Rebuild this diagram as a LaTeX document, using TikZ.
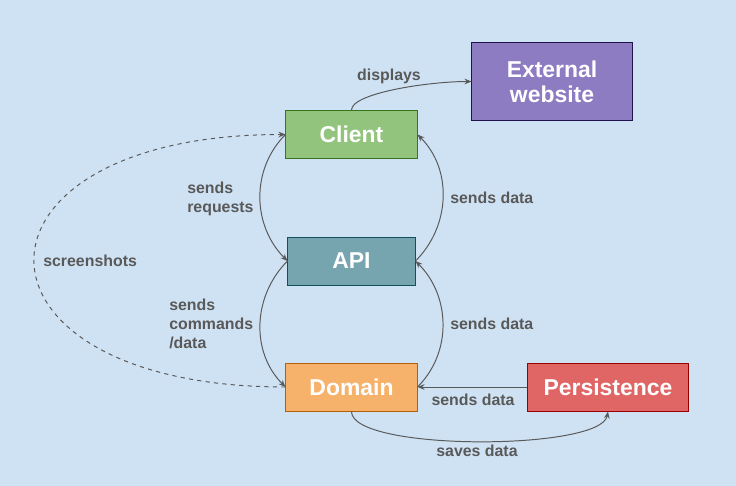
\documentclass[tikz,border=0pt]{standalone}
\usepackage{fontspec}
\setmainfont{Liberation Sans}
\usetikzlibrary{positioning, arrows.meta}
\definecolor{bgBlue}{HTML}{CFE2F3}
\definecolor{lineGray}{HTML}{595959}
\definecolor{clientGreen}{HTML}{93C47D}
\definecolor{clientEdge}{HTML}{38761D}
\definecolor{webPurple}{HTML}{8E7CC3}
\definecolor{webEdge}{HTML}{20124D}
\definecolor{apiTeal}{HTML}{76A5AF}
\definecolor{apiEdge}{HTML}{134F5C}
\definecolor{domainOrange}{HTML}{F6B26B}
\definecolor{domainEdge}{HTML}{B45F06}
\definecolor{persistRed}{HTML}{E06666}
\definecolor{persistEdge}{HTML}{990000}

\begin{document}
\begin{tikzpicture}[x=0.025cm, y=-0.025cm,
    box/.style={
      rectangle, line width=0.7pt, inner sep=0pt,
      minimum width=3.275cm, minimum height=1.2cm,
      text=white, align=center,
      font=\fontsize{16.3}{18}\selectfont\bfseries
    },
    lbl/.style={
      text=lineGray, align=left, inner sep=0pt,
      font=\fontsize{11.3}{13.6}\selectfont\bfseries
    },
    link/.style={
      draw=lineGray, line width=0.7pt,
      -{Stealth[length=5pt, width=4pt]}
    }
  ]
  % fondo
  \useasboundingbox (0,0) rectangle (736,486);
  \fill[bgBlue] (0,0) rectangle (736,486);

  % capas
  \node[box, draw=clientEdge, fill=clientGreen] (client) at (351.5,134.5) {Client};
  \node[box, draw=webEdge, fill=webPurple, minimum width=4cm, minimum height=1.925cm]
    (website) at (552,81.5) {External\\website};
  \node[box, draw=apiEdge, fill=apiTeal, minimum width=3.175cm] (api) at (351.5,261) {API};
  \node[box, draw=domainEdge, fill=domainOrange] (domain) at (351.5,387) {Domain};
  \node[box, draw=persistEdge, fill=persistRed, minimum width=4cm]
    (persistence) at (608,387) {Persistence};

  % flechas
  \draw[link] (client.north) to[out=90, in=180, out looseness=0.35, in looseness=0.9] (website.west);
  \draw[link] (client.west) to[out=225, in=135] (api.west);
  \draw[link] (api.west) to[out=225, in=135] (domain.west);
  \draw[link] (api.east) to[out=45, in=-45] (client.east);
  \draw[link] (domain.east) to[out=45, in=-45] (api.east);
  \draw[link] (persistence.west) -- (domain.east);
  \draw[link] (domain.south) to[out=-90, in=-100, looseness=0.4] (persistence.south);
  \draw[link, dashed] (domain.west) to[out=180, in=180, looseness=3.4] (client.west);

  % etiquetas
  \node[lbl] (lblDisplays) at (389,76) {displays};
  \node[lbl, anchor=west] (lblRequests) at (187,198.5) {sends\\requests};
  \node[lbl, anchor=west] (lblCommands) at (169,324) {sends\\commands\\/data};
  \node[lbl, anchor=west] (lblDataTop) at (450,198) {sends data};
  \node[lbl, anchor=west] (lblDataMid) at (450,324) {sends data};
  \node[lbl] (lblDataLow) at (473,400) {sends data};
  \node[lbl] (lblSaves) at (477,451) {saves data};
  \node[lbl, anchor=west] (lblShots) at (43,261) {screenshots};
\end{tikzpicture}
\end{document}
